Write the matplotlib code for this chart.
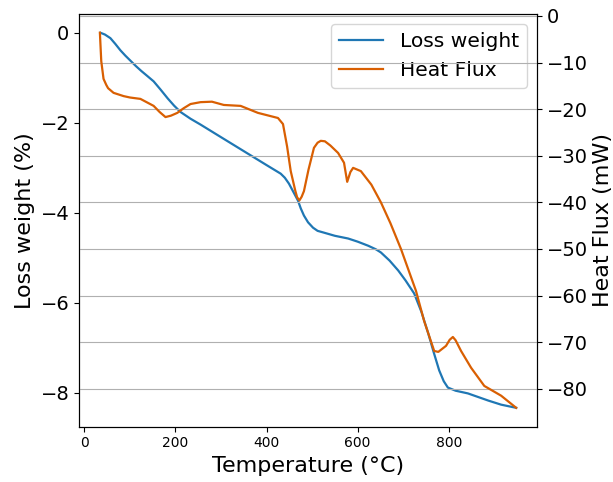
#TGA / DSC plot: weight loss and heat flux against temperature
import matplotlib.pyplot as plt

# Loss weight curve
T_weight = [35, 45, 57, 68, 79, 90, 101, 113, 125, 138, 152, 167, 183, 197, 211,
            233, 255, 300, 350, 400, 431, 440, 449, 458, 469, 475, 482, 491,
            502, 512, 526, 550, 579, 600, 623, 640, 651, 670, 689, 705, 724,
            740, 755, 767, 779, 789, 798, 815, 842, 887, 915, 948]
weight = [0.0, -0.04, -0.12, -0.25, -0.39, -0.51, -0.62, -0.74, -0.85, -0.96,
          -1.08, -1.26, -1.46, -1.62, -1.76, -1.91, -2.04, -2.32, -2.63, -2.94,
          -3.13, -3.22, -3.35, -3.52, -3.73, -3.90, -4.06, -4.21, -4.33, -4.40,
          -4.44, -4.51, -4.57, -4.64, -4.73, -4.81, -4.88, -5.06, -5.28, -5.50,
          -5.79, -6.20, -6.68, -7.10, -7.50, -7.74, -7.88, -7.95, -8.01, -8.17,
          -8.26, -8.33]

# Heat flux curve
T_flux = [34, 37, 42, 48, 52, 64, 86, 100, 123, 152, 165, 178, 190, 204, 218,
          233, 255, 280, 306, 343, 381, 425, 436, 445, 453, 463, 467, 472, 477,
          482, 492, 504, 512, 519, 528, 540, 557, 570, 577, 584, 590, 607, 630,
          651, 672, 695, 728, 746, 768, 777, 794, 802, 809, 815, 827, 849, 878,
          915, 948]
flux = [-3.6, -9.7, -13.5, -14.8, -15.5, -16.5, -17.2, -17.5, -17.8, -19.3,
        -20.6, -21.7, -21.4, -20.8, -19.8, -18.9, -18.5, -18.4, -19.1, -19.3,
        -20.8, -21.9, -23.2, -28.0, -33.3, -37.5, -38.9, -39.6, -38.8, -37.6,
        -33.0, -28.3, -27.2, -26.8, -26.9, -27.8, -29.4, -31.5, -35.6, -33.5,
        -32.6, -33.3, -36.2, -40.0, -44.5, -50.0, -59.0, -65.5, -71.9, -72.1,
        -70.8, -69.5, -68.9, -69.6, -71.9, -75.5, -79.4, -81.5, -84.1]

fig, ax = plt.subplots(figsize=(6.13, 4.82), dpi=100)
fig.subplots_adjust(left=0.129, right=0.876, top=0.971, bottom=0.115)
ax2 = ax.twinx()

l1, = ax.plot(T_weight, weight, color='#1f77b4', lw=1.6, label='Loss weight')
l2, = ax2.plot(T_flux, flux, color='#d95f02', lw=1.6, label='Heat Flux')

ax.set_xlabel('Temperature (°C)', fontsize=16)
ax.set_ylabel('Loss weight (%)', fontsize=16)
ax2.set_ylabel('Heat Flux (mW)', fontsize=16)
ax.tick_params(axis='x', labelsize=10)
ax.tick_params(axis='y', labelsize=14)
ax2.tick_params(axis='y', labelsize=14)
ax.set_xticks([0, 200, 400, 600, 800])

ax2.grid(True, axis='y')
ax.legend([l1, l2], ['Loss weight', 'Heat Flux'], loc='upper right',
          fontsize=14.6, handlelength=2.2)

fig.savefig('out.png')
